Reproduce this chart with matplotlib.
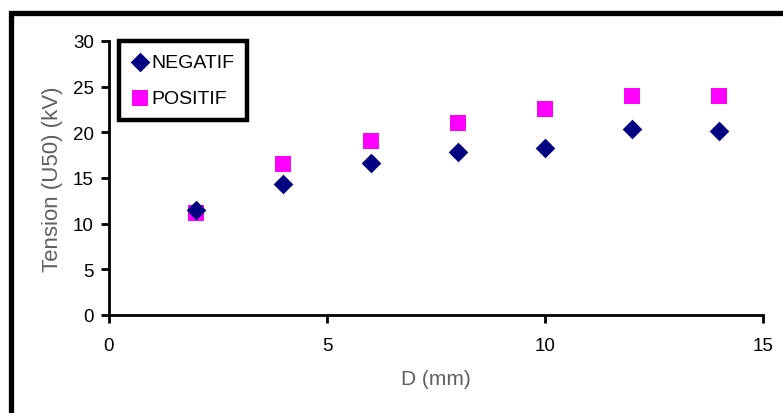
import matplotlib.pyplot as plt
from matplotlib.patches import Rectangle

# data
d_mm = [2, 4, 6, 8, 10, 12, 14]
negatif = [11.5, 14.3, 16.6, 17.8, 18.3, 20.4, 20.1]
positif = [11.2, 16.5, 19.0, 21.0, 22.6, 24.0, 24.0]

plt.rcParams['font.family'] = ['Liberation Sans', 'DejaVu Sans']

fig = plt.figure(figsize=(7.83, 4.14), dpi=100)
ax = fig.add_axes([109/783, 1 - 316/414, (763 - 109)/783, (316 - 42)/414])

# outer frame (only left and top visible)
fig.patches.append(Rectangle((10.5/783, -0.1), 1.2, (414 - 13.5)/414 + 0.1,
                             transform=fig.transFigure, fill=False,
                             edgecolor='black', linewidth=3.8, zorder=0))

ax.scatter(d_mm, negatif, marker='D', s=100, color='#000080', label='NEGATIF',
           zorder=3, linewidths=0)
ax.scatter(d_mm, positif, marker='s', s=135, color='#FF00FF', label='POSITIF',
           zorder=2, linewidths=0)

ax.set_xlim(0, 15)
ax.set_ylim(0, 30)
ax.set_xticks([0, 5, 10, 15])
ax.set_yticks(range(0, 31, 5))

for s in ['top', 'right']:
    ax.spines[s].set_visible(False)
for s in ['left', 'bottom']:
    ax.spines[s].set_linewidth(2)
ax.tick_params(direction='out', length=6, width=2, labelsize=13.5)
ax.tick_params(axis='y', pad=5)
ax.tick_params(axis='x', pad=10)

ax.set_xlabel('D (mm)', labelpad=11, fontsize=15, color='#5f5f5f')
ax.set_ylabel('Tension (U50) (kV)', labelpad=7, fontsize=16, color='#5f5f5f')

leg = ax.legend(loc='upper left', bbox_to_anchor=(10/654, 1.0), fontsize=14,
                frameon=True, fancybox=False, framealpha=1, handletextpad=0.1,
                borderpad=0.65, labelspacing=0.95, handlelength=0.9,
                borderaxespad=0.0, handleheight=0.7)
leg.get_frame().set_edgecolor('black')
leg.get_frame().set_linewidth(3.2)

fig.savefig('out.png', dpi=100)
